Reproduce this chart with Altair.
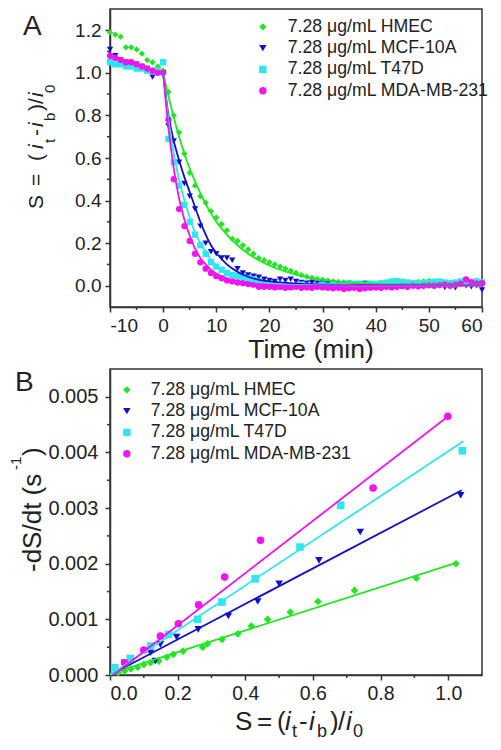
import altair as alt
import pandas as pd

FONT = "Liberation Sans"
TXT = "#222222"
SERIES = ["7.28 μg/mL HMEC", "7.28 μg/mL MCF-10A", "7.28 μg/mL T47D", "7.28 μg/mL MDA-MB-231"]
COLORS = ["#22e622", "#1010c8", "#2ee6ee", "#f014f0"]
SHAPES = ["diamond", "triangle-down", "square", "circle"]

# ---------------- Panel A data ----------------
A_t = list(range(-10, 61))
A_HMEC = [1.19, 1.18, 1.17, 1.12, 1.12, 1.11, 1.09, 1.06, 1.05, 1.03, 1.01,
          0.91, 0.80, 0.72, 0.62, 0.53, 0.47, 0.42, 0.39, 0.35, 0.32,
          0.29, 0.26, 0.22, 0.21, 0.19, 0.17, 0.15, 0.13, 0.12, 0.11,
          0.10, 0.09, 0.08, 0.07, 0.06, 0.05, 0.043, 0.037, 0.032, 0.028,
          0.024, 0.02, 0.018, 0.015, 0.013, 0.012, 0.01, 0.012, 0.01, 0.008,
          0.01, 0.008, 0.01, 0.012, 0.01, 0.012, 0.015, 0.018, 0.02, 0.022,
          0.02, 0.018, 0.015, 0.012, 0.015, 0.02, 0.025, 0.02, 0.022, 0.02]
A_MCF = [1.11, 1.08, 1.06, 1.05, 1.04, 1.04, 1.03, 1.02, 0.98, 1.00, 1.00,
         0.75, 0.68, 0.58, 0.48, 0.42, 0.36, 0.28, 0.20, 0.16, 0.15,
         0.13, 0.13, 0.12, 0.08, 0.06, 0.05, 0.045, 0.04, 0.03, 0.025,
         0.02, 0.03, 0.025, 0.03, 0.02, 0.015, 0.012, 0.015, 0.01, 0.012,
         0.008, 0.01, 0.005, 0.008, 0.01, 0.005, 0.008, 0.01, 0.005, 0.008,
         0.01, 0.006, 0.0, -0.005, 0.0, -0.01, 0.005, 0.0, -0.005, 0.005,
         0.008, 0.0, -0.008, 0.0, -0.01, 0.005, 0.0, -0.005, 0.0, -0.02]
A_T47D = [1.05, 1.04, 1.04, 1.03, 1.03, 1.02, 1.02, 1.01, 1.01, 1.01, 1.05,
          0.69, 0.58, 0.47, 0.38, 0.30, 0.24, 0.19, 0.15, 0.11, 0.09,
          0.075, 0.06, 0.05, 0.045, 0.04, 0.035, 0.03, 0.02, 0.01, 0.005,
          0.0, -0.005, 0.0, -0.005, 0.0, 0.005, 0.0, -0.005, 0.0, 0.005,
          0.0, 0.005, 0.0, 0.005, 0.01, 0.008, 0.01, 0.005, 0.01, 0.008,
          0.01, 0.015, 0.02, 0.022, 0.018, 0.015, 0.012, 0.01, 0.012, 0.015,
          0.018, 0.02, 0.015, 0.012, 0.015, 0.02, 0.022, 0.018, 0.02, 0.015]
A_MDA = [1.08, 1.07, 1.06, 1.05, 1.05, 1.04, 1.03, 1.02, 1.01, 1.00, 1.00,
         0.78, 0.50, 0.36, 0.28, 0.21, 0.15, 0.11, 0.08, 0.06, 0.045,
         0.035, 0.025, 0.02, 0.015, 0.012, 0.008, 0.005, -0.005, -0.005, -0.005,
         -0.008, -0.005, -0.01, -0.008, -0.005, -0.01, -0.008, -0.01, -0.005, -0.008,
         -0.01, -0.012, -0.01, -0.015, -0.012, -0.01, -0.015, -0.012, -0.01, -0.008,
         -0.01, -0.005, -0.008, -0.005, -0.002, -0.005, 0.0, -0.003, 0.0, 0.002,
         0.0, 0.003, 0.005, 0.0, 0.005, 0.01, 0.03, 0.015, 0.01, 0.012]

A_fit_t = [0, 1, 2, 3, 4, 5, 6, 7, 8, 9, 10, 12, 14, 16, 18, 20, 22, 25, 28, 30, 35, 40, 50, 60]
A_fit_HMEC = [1.0, 0.89, 0.79, 0.70, 0.62, 0.55, 0.49, 0.435, 0.385, 0.34, 0.30, 0.24, 0.19, 0.15,
              0.12, 0.095, 0.075, 0.052, 0.035, 0.027, 0.014, 0.009, 0.006, 0.005]
A_fit_MCF = [1.0, 0.80, 0.68, 0.59, 0.51, 0.44, 0.37, 0.30, 0.24, 0.19, 0.155, 0.10, 0.065, 0.042,
             0.028, 0.02, 0.015, 0.01, 0.007, 0.005, 0.004, 0.003, 0.002, 0.002]
A_fit_T47D = [1.0, 0.78, 0.62, 0.50, 0.40, 0.32, 0.25, 0.20, 0.16, 0.12, 0.095, 0.06, 0.038, 0.025,
              0.016, 0.01, 0.007, 0.004, 0.003, 0.002, 0.001, 0.0, 0.0, 0.0]
A_fit_MDA = [1.0, 0.74, 0.55, 0.41, 0.31, 0.235, 0.175, 0.13, 0.10, 0.075, 0.057, 0.033, 0.02, 0.012,
             0.007, 0.004, 0.002, 0.0, 0.0, 0.0, 0.0, 0.0, 0.0, 0.0]

A_x_ticks = [-10, 0, 10, 20, 30, 40, 50, 60]
A_x_minor = [-5, 5, 15, 25, 35, 45, 55]
A_y_ticks = [0.0, 0.2, 0.4, 0.6, 0.8, 1.0, 1.2]
A_y_minor = [0.1, 0.3, 0.5, 0.7, 0.9, 1.1]

# ---------------- Panel B data ----------------
B_HMEC_S = [0.024, 0.043, 0.062, 0.082, 0.10, 0.12, 0.144, 0.168, 0.187, 0.216, 0.274, 0.288, 0.331,
            0.378, 0.418, 0.466, 0.533, 0.615, 0.723, 0.906, 1.023]
B_HMEC_v = [0.00004, 0.00007, 0.00011, 0.00014, 0.00019, 0.00022, 0.00025, 0.00032, 0.00037, 0.00043,
            0.00050, 0.00056, 0.00064, 0.00074, 0.00088, 0.00100, 0.00113, 0.00132, 0.00152, 0.00174, 0.00200]
B_MCF_S = [0.01, 0.043, 0.12, 0.134, 0.149, 0.197, 0.261, 0.35, 0.437, 0.50, 0.618, 0.74, 1.037]
B_MCF_v = [0.00013, 0.00022, 0.00040, 0.00025, 0.00055, 0.00068, 0.00082, 0.00106, 0.00132, 0.00164,
           0.00206, 0.00257, 0.00323]
B_T47D_S = [0.014, 0.06, 0.12, 0.173, 0.259, 0.331, 0.429, 0.562, 0.682, 1.042]
B_T47D_v = [0.00013, 0.00030, 0.00052, 0.00073, 0.00100, 0.00131, 0.00173, 0.00230, 0.00305, 0.00403]
B_MDA_S = [0.043, 0.10, 0.149, 0.202, 0.262, 0.339, 0.445, 0.778, 0.999]
B_MDA_v = [0.00022, 0.00045, 0.00070, 0.00092, 0.00126, 0.00176, 0.00242, 0.00336, 0.00465]

B_fit_S = [[0.0, 1.03], [0.0, 1.04], [0.0, 1.045], [0.01, 1.0]]
B_fit_v = [[0.00002, 0.00203], [0.0, 0.00332], [0.0, 0.0042], [0.0, 0.00465]]

B_x_ticks = [0.0, 0.2, 0.4, 0.6, 0.8, 1.0]
B_x_minor = [0.1, 0.3, 0.5, 0.7, 0.9]
B_y_ticks = [0.0, 0.001, 0.002, 0.003, 0.004, 0.005]
B_y_minor = [0.0005, 0.0015, 0.0025, 0.0035, 0.0045]

# ---------------- tables ----------------
rows = []
for name, vals in zip(SERIES, [A_HMEC, A_MCF, A_T47D, A_MDA]):
    for t, s in zip(A_t, vals):
        rows.append({"t": t, "S": s, "series": name})
dfA = pd.DataFrame(rows)
rows = []
for name, vals in zip(SERIES, [A_fit_HMEC, A_fit_MCF, A_fit_T47D, A_fit_MDA]):
    for t, s in zip(A_fit_t, vals):
        rows.append({"t": t, "S": s, "series": name})
dfAfit = pd.DataFrame(rows)
rows = []
for name, ss, vv in zip(SERIES, [B_HMEC_S, B_MCF_S, B_T47D_S, B_MDA_S], [B_HMEC_v, B_MCF_v, B_T47D_v, B_MDA_v]):
    for s, v in zip(ss, vv):
        rows.append({"S": s, "v": v, "series": name})
dfB = pd.DataFrame(rows)
rows = []
for name, ss, vv in zip(SERIES, B_fit_S, B_fit_v):
    for s, v in zip(ss, vv):
        rows.append({"S": s, "v": v, "series": name})
dfBfit = pd.DataFrame(rows)

A_W, A_H = 372, 298
B_W, B_H = 372, 306

colscale = alt.Scale(domain=SERIES, range=COLORS)
shapescale = alt.Scale(domain=SERIES, range=SHAPES)


def axis(values, fmt_expr, size, pad=4):
    return alt.Axis(values=values, title=None, tickSize=5, tickWidth=1.5, labelFontSize=size,
                    labelFont=FONT, labelColor=TXT, labelPadding=pad, labelExpr=fmt_expr,
                    domainColor="#333333", domainWidth=1.5, tickColor="#333333", grid=False)


axAx = axis(A_x_ticks, "datum.value + ''", 19)
axAy = axis(A_y_ticks, "format(datum.value, '.1f')", 19)
axBx = axis(B_x_ticks, "format(datum.value, '.1f')", 19.5)
axBy = axis(B_y_ticks, "format(datum.value, '.3f')", 20, 7)


def xA(f):
    return alt.X(f, type="quantitative", scale=alt.Scale(domain=[-10, 60], nice=False, zero=False), axis=axAx)


def yA(f):
    return alt.Y(f, type="quantitative", scale=alt.Scale(domain=[-0.1, 1.3], nice=False, zero=False), axis=axAy)


def xB(f):
    return alt.X(f, type="quantitative", scale=alt.Scale(domain=[0, 1.1], nice=False, zero=False), axis=axBx)


def yB(f):
    return alt.Y(f, type="quantitative", scale=alt.Scale(domain=[0, 0.0055], nice=False, zero=False), axis=axBy)


def txt(s, x, y, size, angle=0, italic=False, align="left", baseline="alphabetic"):
    return alt.Chart(alt.Data(values=[{}])).mark_text(
        text=s, font=FONT, fontSize=size, fontStyle="italic" if italic else "normal",
        angle=angle, align=align, baseline=baseline, color=TXT
    ).encode(x=alt.value(x), y=alt.value(y))


def minor_x(vals, xenc, H):
    return alt.Chart(pd.DataFrame({"mx": vals})).mark_rule(color="#333333", strokeWidth=1.5).encode(
        x=xenc("mx"), y=alt.value(H), y2=alt.value(H + 3))


def minor_y(vals, yenc):
    return alt.Chart(pd.DataFrame({"my": vals})).mark_rule(color="#333333", strokeWidth=1.5).encode(
        y=yenc("my"), x=alt.value(0), x2=alt.value(-3))


def legend(x, y, offset):
    return alt.Legend(orient="none", legendX=x, legendY=y, title=None, labelFont=FONT, labelFontSize=17.7,
                      labelColor=TXT, labelLimit=0, symbolSize=55, rowPadding=2.3, labelOffset=offset,
                      padding=0, symbolStrokeWidth=0)


legA = legend(144, 9, 16)
legB = legend(8, 12, 15)

# ---------------- Panel A ----------------
ptsA = alt.Chart(dfA).mark_point(filled=True, size=40, opacity=1).encode(
    x=xA("t"), y=yA("S"),
    color=alt.Color("series:N", scale=colscale, legend=legA),
    shape=alt.Shape("series:N", scale=shapescale, legend=legA))
linA = alt.Chart(dfAfit).mark_line(strokeWidth=1.8, interpolate="monotone").encode(
    x=xA("t"), y=yA("S"), stroke=alt.Stroke("series:N", scale=colscale, legend=None), detail="series:N")

yA_title = [
    txt("S", -67, 200, 21, 270), txt("=", -67, 177, 21, 270), txt("(", -67, 152, 21, 270),
    txt("i", -67, 140, 21, 270, True), txt("t", -55, 134, 15, 270),
    txt("-", -67, 127, 21, 270), txt("i", -67, 118, 21, 270, True), txt("b", -55, 112, 15, 270),
    txt(")", -67, 102, 21, 270), txt("/", -67, 95, 21, 270), txt("i", -67, 88, 21, 270, True),
    txt("0", -55, 84, 15, 270),
]
A = alt.layer(
    ptsA, linA, minor_x(A_x_minor, xA, A_H), minor_y(A_y_minor, yA),
    txt("A", -87, 26, 28),
    txt("Time (min)", 201, 349, 26.5, align="center"),
    *yA_title
).properties(width=A_W, height=A_H)

# ---------------- Panel B ----------------
ptsB = alt.Chart(dfB).mark_point(filled=True, size=58, opacity=1).encode(
    x=xB("S"), y=yB("v"),
    color=alt.Color("series:N", scale=colscale, legend=legB),
    shape=alt.Shape("series:N", scale=shapescale, legend=legB))
linB = alt.Chart(dfBfit).mark_line(strokeWidth=1.8).encode(
    x=xB("S"), y=yB("v"), stroke=alt.Stroke("series:N", scale=colscale, legend=None), detail="series:N")

xB_title = [
    txt("S", 125, 361, 26), txt("=", 147, 361, 26), txt("(", 167, 361, 26),
    txt("i", 175, 361, 26, italic=True), txt("t", 182, 368, 18),
    txt("-", 189, 361, 26), txt("i", 199, 361, 26, italic=True), txt("b", 207, 368, 18),
    txt(")", 220, 361, 26), txt("/", 228, 361, 26), txt("i", 236, 361, 26, italic=True),
    txt("0", 243, 368, 18),
]
yB_title = [
    txt("-dS/dt (s", -69, 203, 26, 270),
    txt("-1", -89, 101, 15, 270),
    txt(")", -69, 87, 26, 270),
]
B = alt.layer(
    ptsB, linB, minor_x(B_x_minor, xB, B_H), minor_y(B_y_minor, yB),
    txt("B", -95, 22, 28),
    *xB_title, *yB_title
).properties(width=B_W, height=B_H)

chart = alt.vconcat(A, B, spacing=3).resolve_scale(
    color="independent", shape="independent", stroke="independent", x="independent", y="independent"
).properties(padding=0).configure_view(stroke="#333333", strokeWidth=1.5)

chart.save("out.html", embed_options={"renderer": "svg", "actions": False})
